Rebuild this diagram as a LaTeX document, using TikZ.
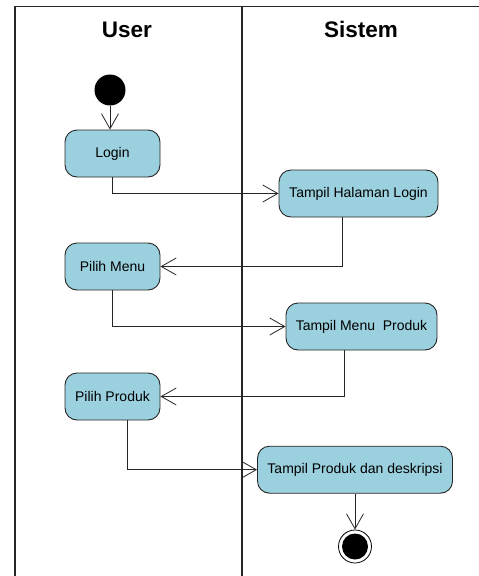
\documentclass[tikz,border=0pt]{standalone}
\usepackage{fontspec}
\setmainfont{Liberation Sans}
\usetikzlibrary{arrows.meta,positioning,calc}
\definecolor{actfill}{RGB}{155,208,222}
\tikzset{
  act/.style={draw=black!85, line width=0.9pt, fill=actfill, rounded corners=12pt,
    minimum height=47pt, inner sep=2pt, font=\fontsize{14}{16}\selectfont},
  flow/.style={draw=black!85, line width=0.8pt, -{Straight Barb[length=15pt,width=17pt,line width=0.8pt]}},
  lane/.style={draw=black!85, line width=1.4pt},
  hdr/.style={font=\fontsize{22.5}{24}\selectfont\bfseries, anchor=base},
}
\begin{document}
\begin{tikzpicture}[x=1pt,y=-1pt]
\useasboundingbox (0,0) rectangle (479,576);
% swimlanes
\draw[lane] (15,576) -- (15,6.5) -- (479,6.5);
\draw[lane] (242,6.5) -- (242,576);
\node[hdr] (huser) at (127,37.5) {User};
\node[hdr] (hsis) at (361,37.5) {Sistem};
% nodes
\node[circle, fill=black, minimum size=31pt, inner sep=0pt] (start) at (110,90) {};
\node[act, minimum width=95pt] (login) at (112.5,153.5) {Login};
\node[act, minimum width=159pt] (tlogin) at (358.5,193.5) {Tampil Halaman Login};
\node[act, minimum width=95pt] (pmenu) at (112.5,266.5) {Pilih Menu};
\node[act, minimum width=151pt] (tmenu) at (361.5,326.5) {Tampil Menu\ \ Produk};
\node[act, minimum width=95pt] (pprod) at (112.5,396.5) {Pilih Produk};
\node[act, minimum width=195pt] (tprod) at (355,469.7) {Tampil Produk dan deskripsi};
\node[circle, draw=black, line width=0.8pt, fill=white, minimum size=33pt, inner sep=0pt] (endo) at (355,546.5) {};
\node[circle, fill=black, minimum size=26pt, inner sep=0pt] (endi) at (endo.center) {};
% connectors
\draw[flow] (start.south) -- (start.south |- login.north);
\draw[flow] (login.south) |- (tlogin.west);
\draw[flow] ([xshift=-16pt]tlogin.south) |- (pmenu.east);
\draw[flow] (pmenu.south) |- (tmenu.west);
\draw[flow] ([xshift=-17.5pt]tmenu.south) |- (pprod.east);
\draw[flow] ([xshift=15pt]pprod.south) |- (tprod.west);
\draw[flow] (tprod.south) -- (endo.north);
\end{tikzpicture}
\end{document}
